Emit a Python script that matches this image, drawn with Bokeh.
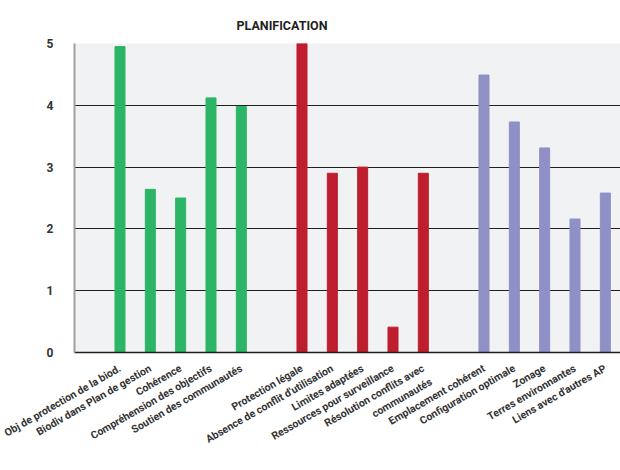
import math
from bokeh.plotting import figure
from bokeh.models import Range1d, FixedTicker, Label, ColumnDataSource
from bokeh.embed import file_html
from bokeh.resources import INLINE

title = "PLANIFICATION"
groups = ["OBJECTIFS", "SECURITE JURIDIQUE", "CONCEPTION"]
colors = ["#2cb567", "#be1e2d", "#8f90c5"]

cats_objectifs = ["Obj de protection de la biod.", "Biodiv dans Plan de gestion", "Cohérence",
                  "Compréhension des objectifs", "Soutien des communautés"]
vals_objectifs = [4.95, 2.64, 2.50, 4.12, 3.98]

cats_securite = ["Protection légale", "Absence de conflit d'utilisation", "Limites adaptées",
                 "Ressources pour surveillance", "Résolution conflits avec\ncommunautés"]
vals_securite = [5.0, 2.90, 3.0, 0.41, 2.90]

cats_conception = ["Emplacement cohérent", "Configuration optimale", "Zonage",
                   "Terres environnantes", "Liens avec d'autres AP"]
vals_conception = [4.49, 3.73, 3.31, 2.16, 2.58]

y_ticks = [0, 1, 2, 3, 4, 5]

all_cats = [cats_objectifs, cats_securite, cats_conception]
all_vals = [vals_objectifs, vals_securite, vals_conception]

SLOTS_PER_GROUP = 6
xs, tops, fills, names = [], [], [], []
for g, (cats, vals) in enumerate(zip(all_cats, all_vals)):
    for i, (c, v) in enumerate(zip(cats, vals)):
        xs.append(g * SLOTS_PER_GROUP + 1.5 + i)
        tops.append(v)
        fills.append(colors[g])
        names.append(c)


def tick_text(name):
    # rotated multi-line tick labels are centred on the tick: pad a blank line on top
    # so that the first real line sits on the tick like the single-line labels
    n_extra = name.count("\n")
    return "\u00a0\n" * n_extra + name if n_extra else name


src = ColumnDataSource(dict(x=xs, top=tops, color=fills))

p = figure(width=620, height=470, output_backend="svg", toolbar_location=None,
           x_range=Range1d(0, SLOTS_PER_GROUP * len(groups)), y_range=Range1d(0, 5),
           min_border_left=74, min_border_right=0, min_border_top=43, min_border_bottom=118)

p.vbar(x="x", top="top", bottom=0, width=0.33, color="color", source=src)

p.background_fill_color = "#f1f2f4"
p.border_fill_color = "white"
p.outline_line_color = None

p.title.text = title
p.title.align = "left"
p.title.offset = 162
p.title.standoff = 22
p.title.text_font = "Roboto"
p.title.text_font_size = "12.5px"
p.title.text_font_style = "bold"
p.title.text_color = "#231f20"

p.xgrid.grid_line_color = None
p.ygrid.ticker = FixedTicker(ticks=y_ticks)
p.ygrid.grid_line_color = "#231f20"
p.ygrid.grid_line_width = 1.2

ya = p.yaxis[0]
ya.ticker = FixedTicker(ticks=y_ticks)
ya.axis_line_color = "#a0a0a0"
ya.axis_line_width = 2
ya.major_tick_line_color = None
ya.minor_tick_line_color = None
ya.major_label_standoff = 15
ya.major_label_text_font = "Roboto"
ya.major_label_text_font_style = "bold"
ya.major_label_text_font_size = "12px"
ya.major_label_text_color = "#333333"

xa = p.xaxis[0]
xa.ticker = FixedTicker(ticks=xs)
xa.major_label_overrides = {x: tick_text(n) for x, n in zip(xs, names)}
xa.major_label_orientation = math.pi / 6
xa.axis_line_color = "#231f20"
xa.axis_line_width = 1.5
xa.major_tick_line_color = None
xa.minor_tick_line_color = None
xa.major_label_standoff = 9
xa.major_label_text_font = "Roboto"
xa.major_label_text_font_style = "bold"
xa.major_label_text_font_size = "10.5px"
xa.major_label_text_color = "#333333"

for g, name in enumerate(groups):
    p.add_layout(Label(x=g * SLOTS_PER_GROUP + SLOTS_PER_GROUP / 2, y=-1.67, text=name,
                       text_align="center", text_baseline="top",
                       text_font="Roboto", text_font_style="bold", text_font_size="12.5px",
                       text_color="#2a7bc1"))

open("out.html", "w").write(file_html(p, INLINE))
